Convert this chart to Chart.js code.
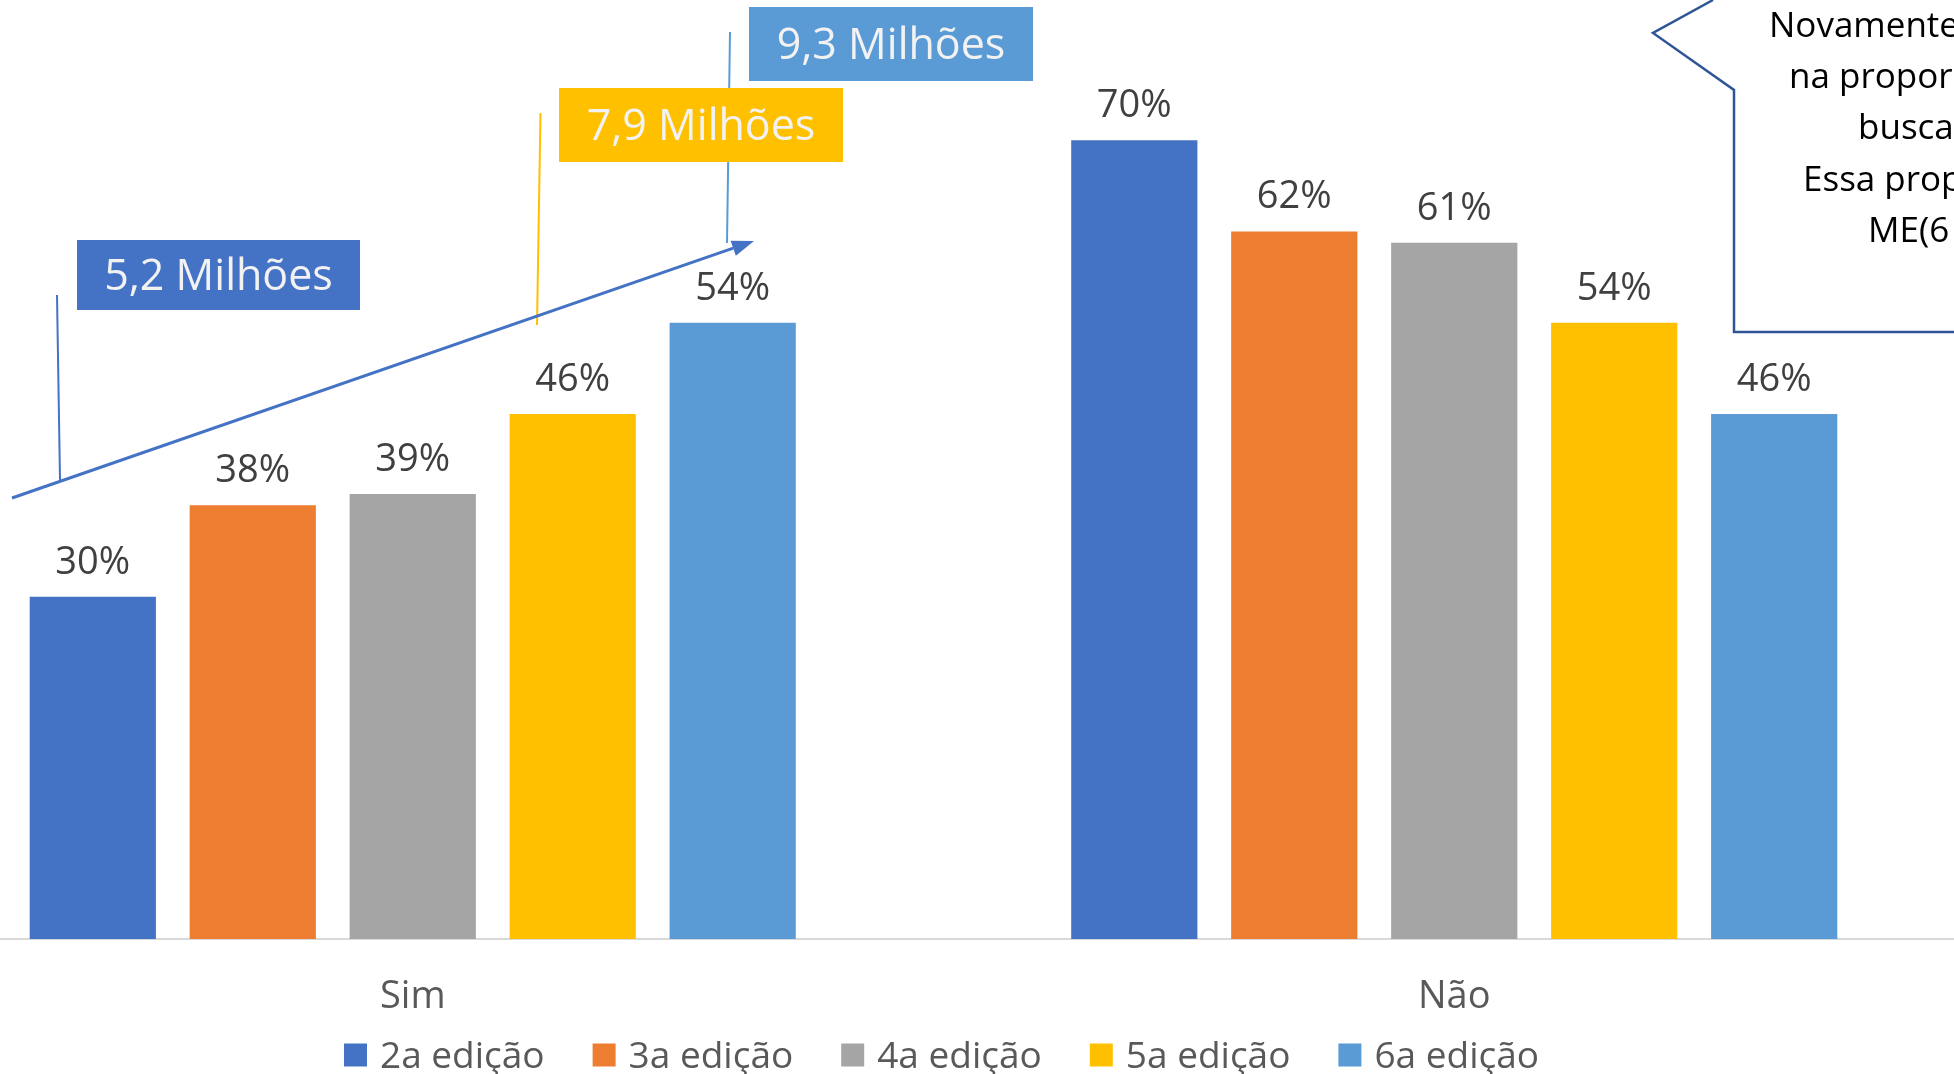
<!DOCTYPE html>
<html><head><meta charset="utf-8">
<script src="https://cdn.jsdelivr.net/npm/chart.js@4.4.1/dist/chart.umd.min.js"></script>
<style>
html,body{margin:0;padding:0;width:1954px;height:1074px;overflow:hidden;background:#fff;}
#wrap{position:absolute;left:-108px;top:0;width:2083px;height:1074px;}
</style></head><body>
<div id="wrap"><canvas id="c"></canvas></div>
<script>
// ---- data ----
const categories = ['Sim', 'Não'];
const seriesNames = ['2a edição', '3a edição', '4a edição', '5a edição', '6a edição'];
const ed2 = [30, 70];
const ed3 = [38, 62];
const ed4 = [39, 61];
const ed5 = [46, 54];
const ed6 = [54, 46];
const seriesColors = ['#4472C4', '#ED7D31', '#A5A5A5', '#FFC000', '#5B9BD5'];
const milhoesLabels = ['5,2 Milhões', '7,9 Milhões', '9,3 Milhões'];
const calloutLines = ['Novamente', 'na propor', 'busca', 'Essa prop', 'ME(6'];

const OX = 108; // canvas is shifted left by this many px
const FONT = '"Open Sans"';
Chart.defaults.font.family = FONT;

const seriesValues = [ed2, ed3, ed4, ed5, ed6];
const datasets = seriesNames.map((n, i) => ({
  label: n,
  data: seriesValues[i],
  backgroundColor: seriesColors[i],
  borderWidth: 0,
  barPercentage: 0.789,
  categoryPercentage: 0.768
}));

const dataLabelPlugin = {
  id: 'dataLabels',
  afterDatasetsDraw(chart) {
    const ctx = chart.ctx;
    ctx.save();
    ctx.font = '38px ' + FONT;
    ctx.fillStyle = '#404040';
    ctx.textAlign = 'center';
    ctx.textBaseline = 'alphabetic';
    chart.data.datasets.forEach((ds, i) => {
      chart.getDatasetMeta(i).data.forEach((bar, j) => {
        ctx.fillText(ds.data[j] + '%', bar.x, bar.y - 23);
      });
    });
    ctx.restore();
  }
};

const legendPlugin = {
  id: 'customLegend',
  afterDraw(chart) {
    const ctx = chart.ctx;
    ctx.save();
    ctx.translate(OX, 0);
    ctx.font = '37px ' + FONT;
    ctx.textAlign = 'left';
    ctx.textBaseline = 'alphabetic';
    chart.data.datasets.forEach((ds, i) => {
      const x = 344 + i * 248.6;
      ctx.fillStyle = ds.backgroundColor;
      ctx.fillRect(x, 1043.5, 23, 23);
      ctx.fillStyle = '#595959';
      ctx.fillText(ds.label, x + 36, 1068);
    });
    ctx.restore();
  }
};

function line(ctx, pts, color, w) {
  ctx.beginPath();
  ctx.moveTo(pts[0][0], pts[0][1]);
  for (let k = 1; k < pts.length; k++) ctx.lineTo(pts[k][0], pts[k][1]);
  ctx.strokeStyle = color;
  ctx.lineWidth = w;
  ctx.stroke();
}
function box(ctx, x, y, w, h, fill, text) {
  ctx.fillStyle = fill;
  ctx.fillRect(x, y, w, h);
  ctx.fillStyle = '#F2F2F2';
  ctx.font = '43px ' + FONT;
  ctx.textAlign = 'center';
  ctx.textBaseline = 'alphabetic';
  ctx.fillText(text, x + w / 2, y + h / 2 + 15);
}

const annotationPlugin = {
  id: 'annotations',
  afterDraw(chart) {
    const ctx = chart.ctx;
    ctx.save();
    ctx.translate(OX, 0);
    ctx.lineCap = 'butt';
    // leader lines
    line(ctx, [[57, 295], [60, 480]], '#4472C4', 2);
    line(ctx, [[540.5, 113], [537, 325]], '#FFC000', 2);
    line(ctx, [[730, 32], [727, 243]], '#5B9BD5', 2);
    // arrow
    const x0 = 12, y0 = 498, x1 = 754, y1 = 241;
    const ang = Math.atan2(y1 - y0, x1 - x0);
    const hl = 22, hw = 8;
    const bx = x1 - hl * Math.cos(ang), by = y1 - hl * Math.sin(ang);
    line(ctx, [[x0, y0], [bx, by]], '#4472C4', 3);
    ctx.beginPath();
    ctx.moveTo(x1, y1);
    ctx.lineTo(bx + hw * Math.sin(ang), by - hw * Math.cos(ang));
    ctx.lineTo(bx - hw * Math.sin(ang), by + hw * Math.cos(ang));
    ctx.closePath();
    ctx.fillStyle = '#4472C4';
    ctx.fill();
    // boxes
    box(ctx, 77, 240, 283, 70, '#4472C4', milhoesLabels[0]);
    box(ctx, 559, 88, 284, 74, '#FFC000', milhoesLabels[1]);
    box(ctx, 749, 7, 284, 74, '#5B9BD5', milhoesLabels[2]);
    // callout
    line(ctx, [[1713, 0], [1653, 33], [1734, 90], [1734, 332], [1965, 332]], '#2F5597', 2.5);
    ctx.fillStyle = '#000000';
    ctx.font = '35px ' + FONT;
    ctx.textAlign = 'left';
    ctx.textBaseline = 'alphabetic';
    const pos = [[1769, 37], [1789, 88], [1858, 139], [1803, 191], [1868, 242]];
    calloutLines.forEach((t, k) => ctx.fillText(t, pos[k][0], pos[k][1]));
    ctx.restore();
  }
};

new Chart(document.getElementById('c'), {
  type: 'bar',
  data: { labels: categories, datasets },
  options: {
    responsive: true,
    maintainAspectRatio: false,
    animation: false,
    devicePixelRatio: 1,
    layout: { padding: { top: 26, bottom: 0, left: 0, right: 0 } },
    plugins: {
      legend: { display: false },
      tooltip: { enabled: false },
      title: { display: false }
    },
    scales: {
      x: {
        grid: { display: false, drawTicks: false },
        border: { display: true, color: '#D9D9D9', width: 2 },
        ticks: { color: '#595959', font: { size: 38 }, padding: 35 },
        afterFit(s) { s.height = 135; }
      },
      y: { display: false, min: 0, max: 80 }
    }
  },
  plugins: [dataLabelPlugin, annotationPlugin, legendPlugin]
});
</script>
</body></html>
